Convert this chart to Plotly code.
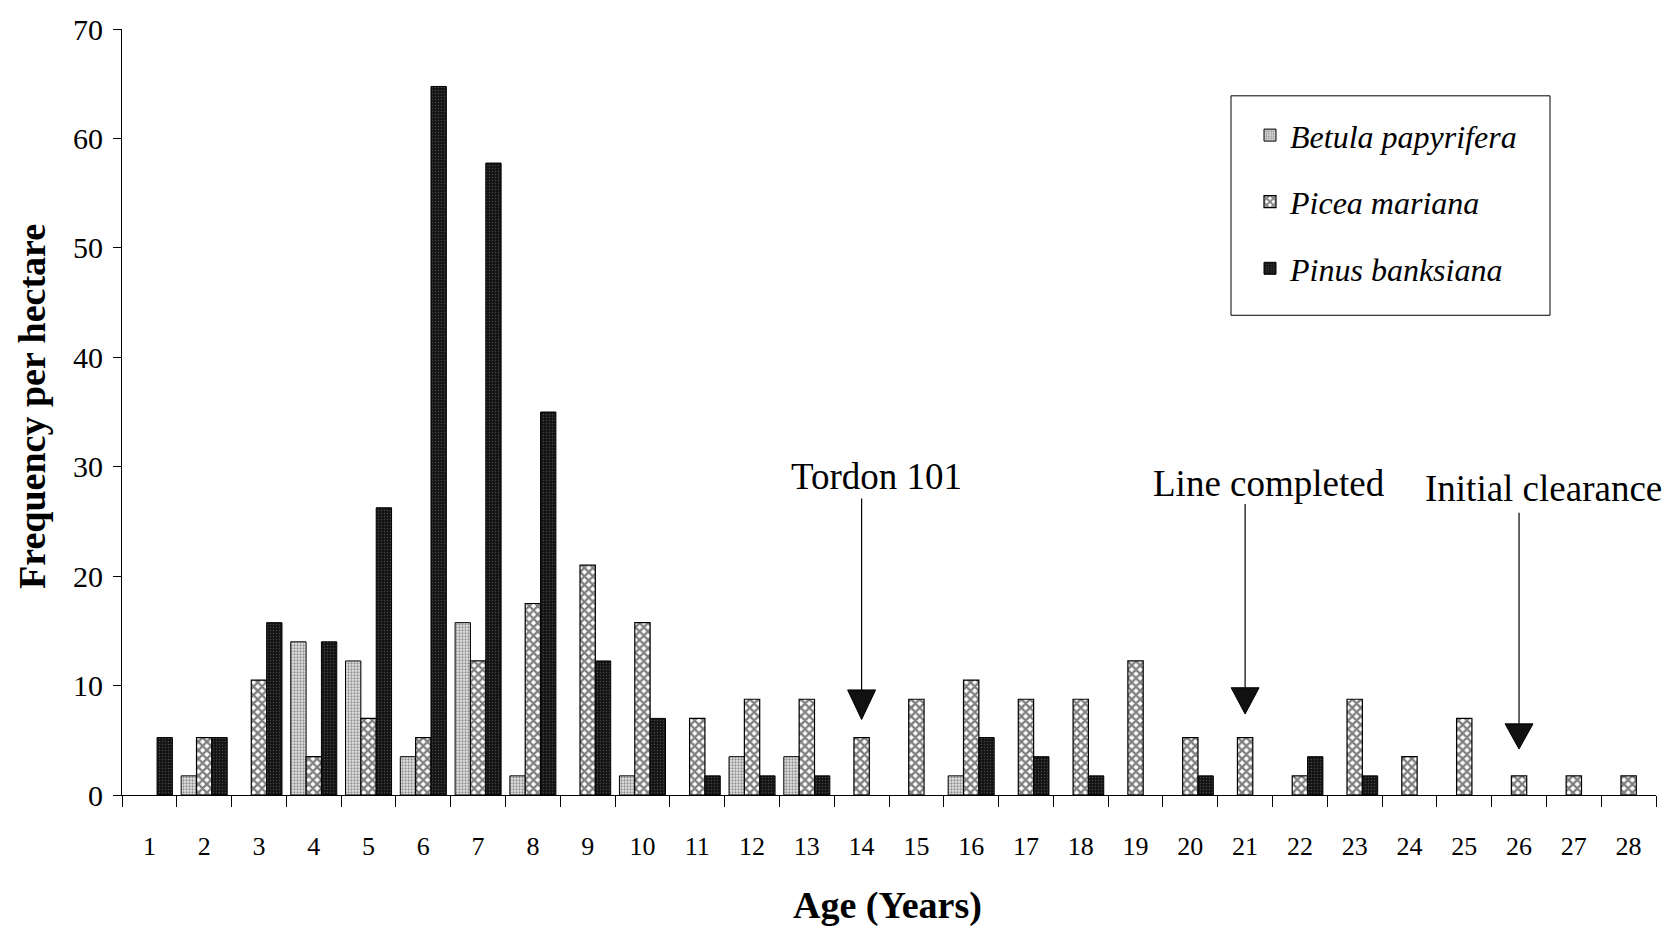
import plotly.graph_objects as go

# Seedling frequency per hectare by age class (years)
ages = list(range(1, 29))

betula_papyrifera = [None, 1.75, None, 14.0, 12.25, 3.5, 15.75, 1.75, None, 1.75,
                     None, 3.5, 3.5, None, None, 1.75, None, None, None, None,
                     None, None, None, None, None, None, None, None]
picea_mariana = [None, 5.25, 10.5, 3.5, 7.0, 5.25, 12.25, 17.5, 21.0, 15.75,
                 7.0, 8.75, 8.75, 5.25, 8.75, 10.5, 8.75, 8.75, 12.25, 5.25,
                 5.25, 1.75, 8.75, 3.5, 7.0, 1.75, 1.75, 1.75]
pinus_banksiana = [5.25, 5.25, 15.75, 14.0, 26.25, 64.75, 57.75, 35.0, 12.25, 7.0,
                   1.75, 1.75, 1.75, None, None, 5.25, 3.5, 1.75, None, 1.75,
                   None, 3.5, 1.75, None, None, None, None, None]

# Management events marked with arrows
event_labels = ["Tordon 101", "Line completed", "Initial clearance"]
event_ages = [14, 21, 26]

y_ticks = [0, 10, 20, 30, 40, 50, 60, 70]

FONT = "Liberation Serif"

# Page geometry (pixels)
W, H = 1678, 930
L, R, T, B = 122, 22, 27, 135
pw, ph = W - L - R, H - T - B


def px_x(v):
    return (v - L) / pw


def px_y(v):
    return (H - B - v) / ph


fig = go.Figure()

fig.add_trace(go.Bar(
    x=ages, y=betula_papyrifera, name="Betula papyrifera",
    legendgroup="b",
    marker=dict(
        color="#d8d8d8",
        line=dict(color="black", width=1),
        pattern=dict(shape=".", fgcolor="#3a3a3a", bgcolor="#e6e6e6",
                     size=3, solidity=0.45),
    ),
))
fig.add_trace(go.Bar(
    x=ages, y=picea_mariana, name="Picea mariana",
    legendgroup="p",
    marker=dict(
        color="white",
        line=dict(color="black", width=1.2),
        pattern=dict(shape="x", fgcolor="black", bgcolor="white",
                     size=6, solidity=0.62),
    ),
))
fig.add_trace(go.Bar(
    x=ages, y=pinus_banksiana, name="Pinus banksiana",
    legendgroup="k",
    marker=dict(
        color="#111111",
        line=dict(color="black", width=1),
        pattern=dict(shape=".", fgcolor="#7a7a7a", bgcolor="#141414",
                     size=3, solidity=0.18),
    ),
))

# Arrow geometry for each event (data units): text centre, line top,
# arrowhead top, arrowhead tip, horizontal text offset in age units
text_y = [29.1, 28.5, 28.0]
line_top = [27.1, 26.6, 25.8]
head_top = [9.6, 9.8, 6.5]
head_tip = [6.9, 7.4, 4.2]
text_dx = [0.27, 0.44, 0.44]
half_w = 0.255

shapes = []
annotations = []
for i, (lab, a) in enumerate(zip(event_labels, event_ages)):
    shapes.append(dict(type="line", xref="x", yref="y", x0=a, x1=a,
                       y0=line_top[i], y1=head_top[i],
                       line=dict(color="black", width=1.2)))
    shapes.append(dict(type="path", xref="x", yref="y",
                       path=(f"M {a - half_w} {head_top[i]} L {a + half_w} {head_top[i]} "
                             f"L {a} {head_tip[i]} Z"),
                       fillcolor="#111111", line=dict(color="black", width=1)))
    annotations.append(dict(x=a + text_dx[i], y=text_y[i], xref="x", yref="y",
                            text=lab, showarrow=False,
                            font=dict(family=FONT, size=37, color="black"),
                            xanchor="center", yanchor="middle"))

# Axis titles
annotations.append(dict(x=px_x(887), y=px_y(906), xref="paper", yref="paper",
                        text="<b>Age (Years)</b>", showarrow=False,
                        xanchor="center", yanchor="middle",
                        font=dict(family=FONT, size=38, color="black")))
annotations.append(dict(x=px_x(32), y=px_y(406), xref="paper", yref="paper",
                        text="<b>Frequency per hectare</b>", textangle=-90,
                        showarrow=False, xanchor="center", yanchor="middle",
                        font=dict(family=FONT, size=38, color="black")))

# Legend frame
shapes.append(dict(type="rect", xref="paper", yref="paper",
                   x0=px_x(1231), x1=px_x(1550), y0=px_y(314), y1=px_y(94),
                   line=dict(color="black", width=1), fillcolor="rgba(0,0,0,0)"))

fig.update_layout(
    width=W, height=H,
    margin=dict(l=L, r=R, t=T, b=B),
    paper_bgcolor="white", plot_bgcolor="white",
    barmode="group", bargap=0.16, bargroupgap=0,
    font=dict(family=FONT, color="black"),
    shapes=shapes,
    annotations=annotations,
    showlegend=True,
    legend=dict(
        x=px_x(1250), y=px_y(106), xanchor="left", yanchor="top",
        borderwidth=0, bgcolor="rgba(255,255,255,0)",
        font=dict(family=FONT, size=32, color="black", style="italic"),
        tracegroupgap=22, itemwidth=30,
    ),
    xaxis=dict(
        range=[0.5, 28.5], tickmode="array", tickvals=ages,
        ticktext=[str(a) for a in ages], ticks="", showgrid=False,
        showline=True, linecolor="black", linewidth=1, zeroline=False,
        tickfont=dict(family=FONT, size=26), ticklabelstandoff=28,
        minor=dict(tickmode="array", tickvals=[a + 0.5 for a in [0] + ages],
                   ticks="outside", ticklen=11, tickcolor="black", tickwidth=1,
                   showgrid=False),
    ),
    yaxis=dict(
        range=[0, 70], tickmode="array", tickvals=y_ticks, ticks="outside",
        ticklen=8, tickcolor="black", showgrid=False, showline=True,
        linecolor="black", linewidth=1, zeroline=False,
        tickfont=dict(family=FONT, size=30), ticklabelstandoff=4,
    ),
)

fig.write_html("out.html")
